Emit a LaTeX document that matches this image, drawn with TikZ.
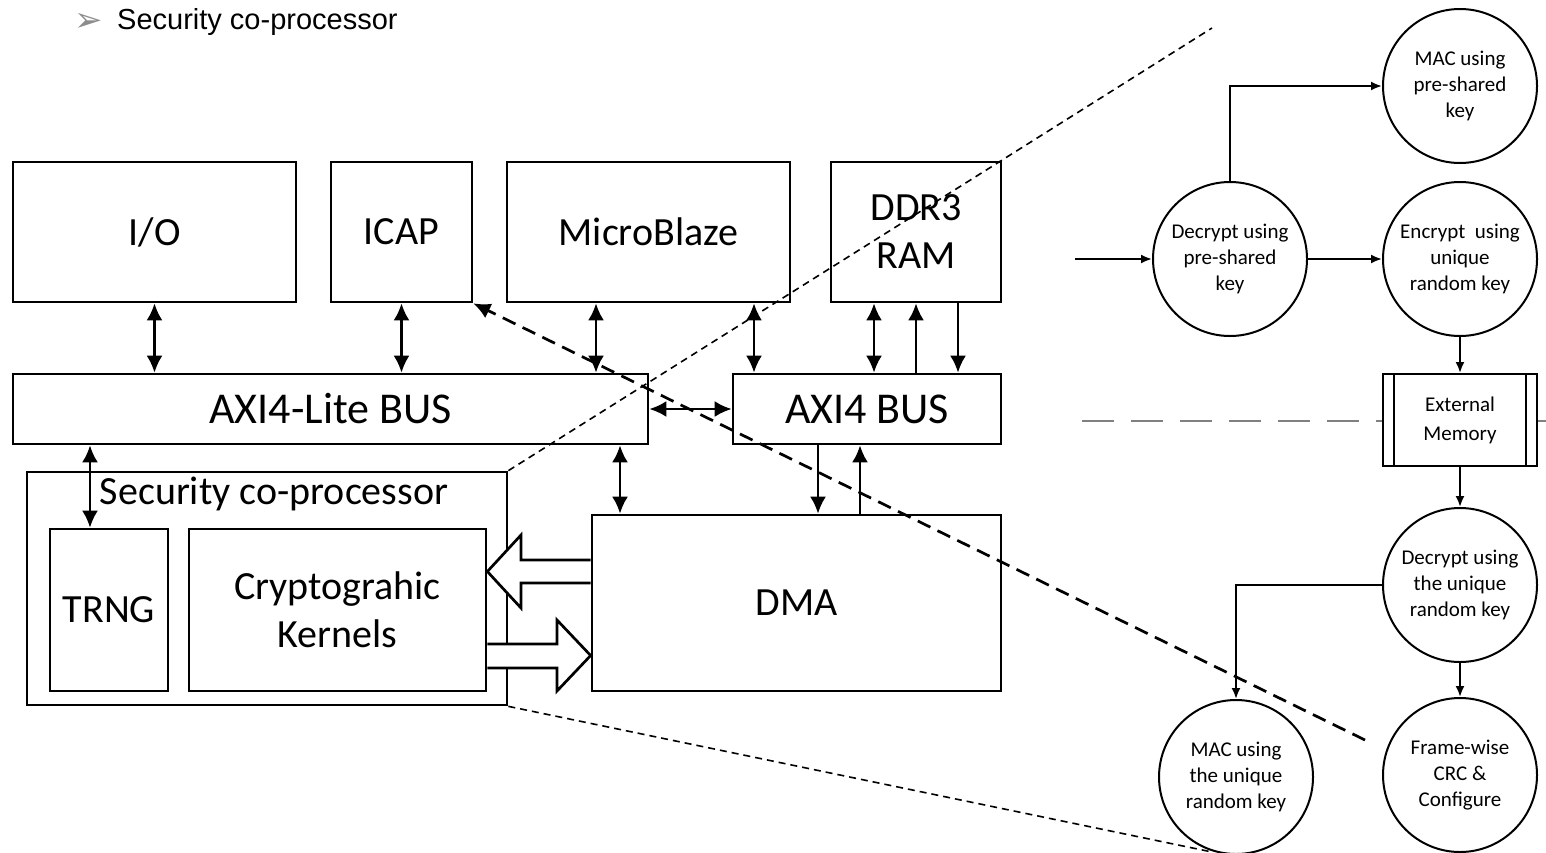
\documentclass[tikz,border=0pt]{standalone}
\usepackage{fontspec}
\setmainfont{Carlito}
\newfontfamily\arialfont{Liberation Sans}
\newfontfamily\symfont{DejaVu Sans}
\usepackage{tikz}
\usetikzlibrary{arrows, arrows.meta}
\usetikzlibrary{graphs}
\usetikzlibrary{calc}
\definecolor{bulletgray}{RGB}{140,140,140}
\definecolor{sepgray}{RGB}{128,128,128}
\tikzstyle{arrow}=[arrows={-{Latex[length=17pt,width=16pt]}}, line width=2.5pt]
\tikzstyle{biarrow}=[arrows={{Latex[length=17pt,width=16pt]}-{Latex[length=17pt,width=16pt]}}, line width=2.5pt]
\tikzstyle{flow}=[arrows={-{Latex[length=11pt,width=9pt]}}, line width=2pt]
\tikzset{
    block/.style={draw, line width=2.7pt, inner sep=0pt, fill=white,
         font=\fontsize{40}{48}\selectfont, align=center},
    bus/.style={block, font=\fontsize{44}{48}\selectfont},
    stage/.style={circle, draw, line width=2pt, minimum size=154pt, inner sep=0pt,
         font=\fontsize{21}{26}\selectfont, align=center},
    zoomline/.style={dash pattern=on 7pt off 5pt, line width=1.6pt},
    hollow/.style={draw, line width=2.7pt, fill=white, line join=miter},
    backref/.style={dash pattern=on 14pt off 8pt, line width=2.7pt,
         arrows={-{Latex[length=17pt,width=16pt]}}},
    separator/.style={draw=sepgray, dash pattern=on 32pt off 17pt, line width=2.5pt}
}

\begin{document}
\begin{tikzpicture}[x=1pt, y=-1pt]
  \useasboundingbox (0,0) rectangle (1546,852);

  % heading
  \node (bullet)[text=bulletgray, font=\symfont\fontsize{34}{34}\selectfont] at (89,22) {➢};
  \node (title)[anchor=west, inner sep=0pt, font=\arialfont\fontsize{29}{29}\selectfont] at (117,22) {Security co-processor};

  %%%%%%%% system %%%%%%%%%%%%%%%%%%%%%%%%%%%
  \node (io)[block, minimum width=283pt, minimum height=140pt] at (154.5,232) {I/O};
  \node (icap)[block, minimum width=141pt, minimum height=140pt] at (401.5,232) {ICAP};
  \node (mb)[block, minimum width=283pt, minimum height=140pt] at (648.5,232) {MicroBlaze};
  \node (ddr)[block, minimum width=170pt, minimum height=140pt] at (916,232) {DDR3\\RAM};

  \node (axil)[bus, minimum width=635pt, minimum height=70pt] at (330.5,409) {AXI4-Lite BUS};
  \node (axi)[bus, minimum width=268pt, minimum height=70pt] at (867,409) {AXI4 BUS};

  \node (sec)[block, minimum width=480pt, minimum height=233pt] at (267,588.5) {};
  \node (sec_l) at (274,494) {\fontsize{40}{48}\selectfont Security co-processor};
  \node (trng)[block, minimum width=118pt, minimum height=162pt] at (109,610) {TRNG};
  \node (crypto)[block, minimum width=297pt, minimum height=162pt] at (337.5,610) {Cryptograhic\\Kernels};
  \node (dma)[block, minimum width=409pt, minimum height=176pt] at (796.5,603) {DMA};

  % bus links
  \draw[biarrow] (io.south) -- (io.south |- axil.north);
  \draw[biarrow] (icap.south) -- (icap.south |- axil.north);
  \draw[biarrow] (mb.south -| 596,0) -- (axil.north -| 596,0);
  \draw[biarrow] (mb.south -| 754,0) -- (axi.north -| 754,0);
  \draw[biarrow] (ddr.south -| 874,0) -- (axi.north -| 874,0);
  \draw[arrow] (axi.north -| 916,0) -- (ddr.south -| 916,0);
  \draw[arrow] (ddr.south -| 958,0) -- (axi.north -| 958,0);
  \draw[biarrow] (axil.east) -- (axi.west);
  \draw[biarrow] (axil.south -| 90,0) -- (trng.north -| 90,0);
  \draw[biarrow] (axil.south -| 620,0) -- (dma.north -| 620,0);
  \draw[arrow] (axi.south -| 818,0) -- (dma.north -| 818,0);
  \draw[arrow] (dma.north -| 860,0) -- (axi.south -| 860,0);

  % data paths
  \draw[hollow] (dma.west |- 0,560) -- (521,560) -- (521,535) -- (crypto.east |- 0,571.5)
       -- (521,608) -- (521,583) -- (dma.west |- 0,583);
  \draw[hollow] (crypto.east |- 0,644) -- (557,644) -- (557,620) -- (dma.west |- 0,655.5)
       -- (557,691) -- (557,668) -- (crypto.east |- 0,668);

  %%%%%%%% flow %%%%%%%%%%%%%%%%%%%%%%%%%%%
  \coordinate (sep_l) at (1082,421);
  \coordinate (sep_r) at (1546,421);
  \draw[separator] (sep_l) -- (sep_r);

  \node (dec1)[stage] at (1230,259) {Decrypt using\\pre-shared\\key};
  \node (mac1)[stage] at (1460,86) {MAC using\\pre-shared\\key};
  \node (enc)[stage] at (1460,259) {Encrypt\ \ using\\unique\\random key};
  \node (ext)[draw, fill=white, line width=2pt, minimum width=154pt, minimum height=92pt, inner sep=0pt,
       font=\fontsize{21}{29}\selectfont, align=center] at (1460,420) {External\\Memory};
  \draw[line width=2pt] ([xshift=12pt]ext.north west) -- ([xshift=12pt]ext.south west);
  \draw[line width=2pt] ([xshift=-12pt]ext.north east) -- ([xshift=-12pt]ext.south east);
  \node (dec2)[stage] at (1460,585) {Decrypt using\\the unique\\random key};
  \node (mac2)[stage] at (1236,777) {MAC using\\the unique\\random key};
  \node (crc)[stage] at (1460,775) {Frame-wise\\CRC \&\\Configure};

  \coordinate (in) at (1075,259);
  \draw[flow] (in) -- (dec1);
  \draw[flow] (dec1.north) |- (mac1.west);
  \graph[use existing nodes, edges=flow] {
    dec1 -> enc -> ext -> dec2 -> crc;
  };
  \draw[flow] (dec2.west) -| (mac2.north);

  % zoom lines
  \coordinate (z_top) at (1212,28);
  \coordinate (z_bot) at (1212,852);
  \coordinate (back) at (1365,740);
  \draw[zoomline] (sec.north east) -- (z_top);
  \draw[zoomline] (sec.south east) -- (z_bot);
  \draw[backref] (back) -- (icap.south east);
\end{tikzpicture}
\end{document}
